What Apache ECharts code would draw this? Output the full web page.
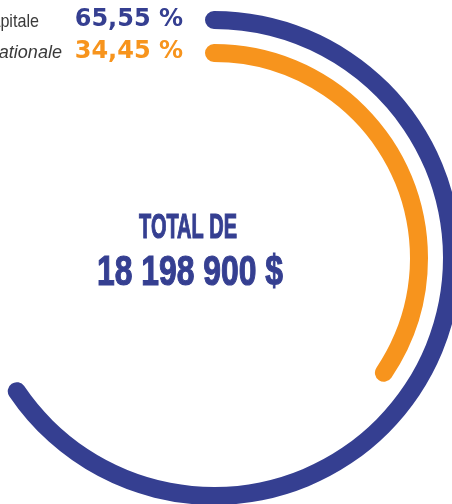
<!DOCTYPE html>
<html><head><meta charset="utf-8">
<script src="https://cdn.jsdelivr.net/npm/echarts@6/dist/echarts.min.js"></script>
<style>html,body{margin:0;padding:0;background:#fff}#c{width:452px;height:504px}</style>
</head><body><div id="c"></div>
<script>
const categories = ['Capitale', 'Nationale'];
const shares = [65.55, 34.45];
const colors = ['#353f91', '#f7941d'];
const totalTitle = 'TOTAL DE';
const totalAmount = '18 198 900 $';

const ringRadius = [247, 214];
const ringWidth = 18;
const center = [214, 258];

function fmtPct(v) { return v.toFixed(2).replace('.', ',') + ' %'; }

const series = shares.map((v, i) => ({
  type: 'gauge',
  name: categories[i],
  center: center,
  radius: ringRadius[i],
  startAngle: 90,
  endAngle: -270,
  min: 0,
  max: 100,
  silent: true,
  progress: { show: true, width: ringWidth, roundCap: true, itemStyle: { color: colors[i] } },
  axisLine: { show: false },
  axisTick: { show: false },
  splitLine: { show: false },
  axisLabel: { show: false },
  pointer: { show: false },
  anchor: { show: false },
  title: { show: false },
  detail: { show: false },
  data: [{ value: v, name: categories[i] }]
}));

const labelY = [21.5, 53];
const pctY = [19.5, 51.5];
const labelRight = [39, 62];
const labelScale = [0.85, 0.95];

const graphic = [];
categories.forEach((c, i) => {
  graphic.push({
    type: 'text', x: labelRight[i], y: labelY[i], scaleX: labelScale[i],
    style: { text: c, x: 0, y: 0, align: 'right', verticalAlign: 'middle',
      font: (i === 1 ? 'italic ' : '') + '19px "Liberation Sans", Arial, sans-serif', fill: '#3a3a3a' }
  });
  graphic.push({
    type: 'text', x: 183, y: pctY[i],
    style: { text: fmtPct(shares[i]), x: 0, y: 0, align: 'right', verticalAlign: 'middle',
      font: 'bold 24px "DejaVu Sans", sans-serif', fill: colors[i] }
  });
});
graphic.push({
  type: 'text', x: 188, y: 228, scaleX: 0.57,
  style: { text: totalTitle, x: 0, y: 0, align: 'center', verticalAlign: 'middle',
    font: 'bold 35px "Liberation Sans", Arial, sans-serif', fill: colors[0],
    stroke: colors[0], lineWidth: 1.2 }
});
graphic.push({
  type: 'text', x: 190, y: 273, scaleX: 0.74,
  style: { text: totalAmount, x: 0, y: 0, align: 'center', verticalAlign: 'middle',
    font: 'bold 43px "Liberation Sans", Arial, sans-serif', fill: colors[0],
    stroke: colors[0], lineWidth: 1.2 }
});

const chart = echarts.init(document.getElementById('c'), null, { renderer: 'canvas' });
chart.setOption({
  animation: false,
  backgroundColor: '#ffffff',
  series: series,
  graphic: graphic
});
</script>
</body></html>
